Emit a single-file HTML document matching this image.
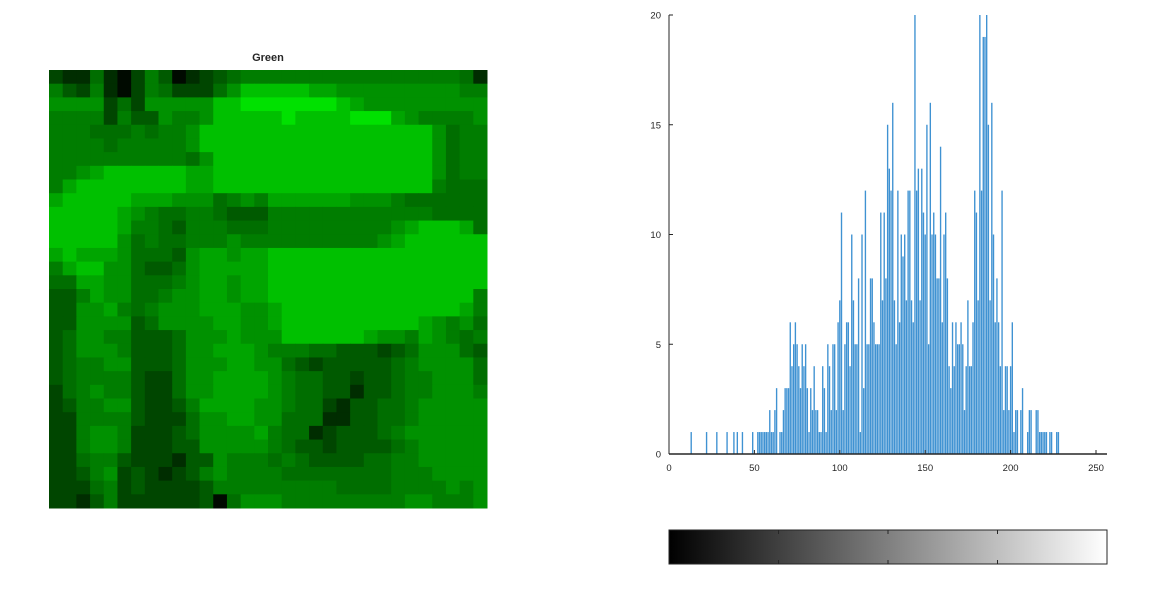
<!DOCTYPE html>
<html><head><meta charset="utf-8">
<style>
body{margin:0;background:#fff;width:1164px;height:591px;overflow:hidden;font-family:"Liberation Sans",sans-serif;}
svg{position:absolute;left:0;top:0}
text{font-family:"Liberation Sans",sans-serif;fill:#262626}
</style></head>
<body>
<svg id="fig" width="1164" height="591">
<text x="268" y="61" text-anchor="middle" font-size="11" font-weight="bold">Green</text>
<g id="img"></g>
<g id="hist"></g>
<g id="hax"></g>
<defs><linearGradient id="gray" x1="0" x2="1" y1="0" y2="0"><stop offset="0" stop-color="#000"/><stop offset="1" stop-color="#fff"/></linearGradient></defs>
<rect x="669" y="530" width="438" height="34" fill="url(#gray)" stroke="#262626" stroke-width="1"/>
<g id="cbt"></g>
</svg>
<script>
const imageRows = [
"21141025301234555555555555555541",
"53251025422246888887766666666655",
"66662426666688999999987666666666",
"55552533655688888988889997655556",
"55544454556888888888888888886455",
"55554555556888888888888888886455",
"55555555554688888888888888886455",
"55678888887788888888888888886455",
"57888888887788888888888888885444",
"78888877766645657777776665444444",
"88888765445543335555555555554444",
"88888755435554445555555556788874",
"88888645445556555555555567888888",
"78777644436776778888888888888888",
"57886643346777778888888888888888",
"44776644456776778888888888888888",
"33576644566776778888888888888885",
"33667545666777667888888888888875",
"33666634666677667888888888876564",
"34665533346667666888888766576545",
"34666533346677765554433323466643",
"34556633346667766432333334566664",
"34555532246677776544332334556664",
"24565532246677776544331334556665",
"23556632235777766544213344566666",
"22555532224667766444113344566666",
"22566522234666675441233345666666",
"22566522233666665433233334566666",
"22455322213365554543333445566666",
"22356232123565555444444445556666",
"22245232222355555555544445555656",
"22135222222304666555555555665556"];
const greenLevels = [10,45,70,90,110,125,145,165,192,225];

const histCounts = new Array(256).fill(0);
const histSparse = {13:1,22:1,28:1,34:1,38:1,40:1,43:1,49:1,52:1,53:1,54:1,55:1,56:1,57:1,58:1,59:2,60:1,61:1,62:2,63:3,65:1,66:1,67:2,68:3,69:3,70:3};
const histMid = [6,4,5,6,5,4,3,5,4,5,3,1,3,2,4,2,2,1,1,4,3,1,5,4,2,5,5,2,6,7,11,2,5,6,6,4,10,7,5,5,8,1,10,3,12,5,5,8,8,6,5,5,5]; // v71..123
const histHigh = [11,7,11,8,15,13,12,16,7,5,12,6,10,9,10,7,12,12,7,6,20,12,13,7,13,11,10,15,5,16,10,11,10,8,8,14,6,10,11,8,4,3,6,4,6,5,5,6,5,2,4,7,4,4,6,12,11,7,20,12,19,19,20,15,7,16,10,6,8,6,4,12,2,4,4,2,4,6,1,2,2,0,2,3,0,0,1,2,2,0,0,2,2,1,1,1,1,1,0,1,1,0,0,1,1]; // v124..
const yTicks = [0,5,10,15,20];
const xTicks = [0,50,100,150,200,250];

const NS="http://www.w3.org/2000/svg";
function mk(tag,attrs,parent){const e=document.createElementNS(NS,tag);for(const k in attrs)e.setAttribute(k,attrs[k]);parent.appendChild(e);return e;}

const img=document.getElementById('img');
const ix0=49, iy0=70, isz=438, n=32, cs=isz/n;
imageRows.forEach((row,r)=>{[...row].forEach((d,c)=>{
  const g=greenLevels[+d];
  const el=mk('rect',{x:ix0+c*cs,y:iy0+r*cs,width:cs+0.5,height:cs+0.5,fill:`rgb(0,${g},0)`},img);
  
  
});});

for(const k in histSparse) histCounts[+k]=histSparse[k];
histMid.forEach((v,i)=>histCounts[71+i]=v);
histHigh.forEach((v,i)=>histCounts[124+i]=v);

const X0=669, X1=1107, Y0=454, Y1=15;
const xs=v=>X0+v*(1096-669)/250;
const ys=c=>Y0-c*(Y0-Y1)/20;
const hist=document.getElementById('hist');
const bw=(1096-669)/250*0.8;
histCounts.forEach((c,v)=>{
  if(!c) return;
  const el=mk('rect',{x:xs(v)-bw/2,y:ys(c),width:bw,height:Y0-ys(c),fill:'#3f92d2'},hist);
  
  
});

const hax=document.getElementById('hax');
mk('line',{x1:X0,y1:Y0,x2:X1,y2:Y0,stroke:'#262626','stroke-width':1.5},hax);
mk('line',{x1:X0,y1:Y0,x2:X0,y2:Y1,stroke:'#262626','stroke-width':1},hax);
yTicks.forEach(t=>{
  mk('line',{x1:X0,y1:ys(t),x2:X0+4,y2:ys(t),stroke:'#262626'},hax);
  const tx=mk('text',{x:X0-8,y:ys(t)+3.5,'text-anchor':'end','font-size':9.5},hax);
  tx.textContent=t;
  
  
});
xTicks.forEach(t=>{
  mk('line',{x1:xs(t),y1:Y0,x2:xs(t),y2:Y0-4,stroke:'#262626'},hax);
  const tx=mk('text',{x:xs(t),y:Y0+17,'text-anchor':'middle','font-size':9.5},hax);
  tx.textContent=t;
  
  
});

const cbt=document.getElementById('cbt');
[0.25,0.5,0.75].forEach(f=>{
  const x=669+438*f;
  mk('line',{x1:x,y1:530,x2:x,y2:534,stroke:'#262626'},cbt);
  mk('line',{x1:x,y1:564,x2:x,y2:560,stroke:'#262626'},cbt);
});
</script>
</body></html>
